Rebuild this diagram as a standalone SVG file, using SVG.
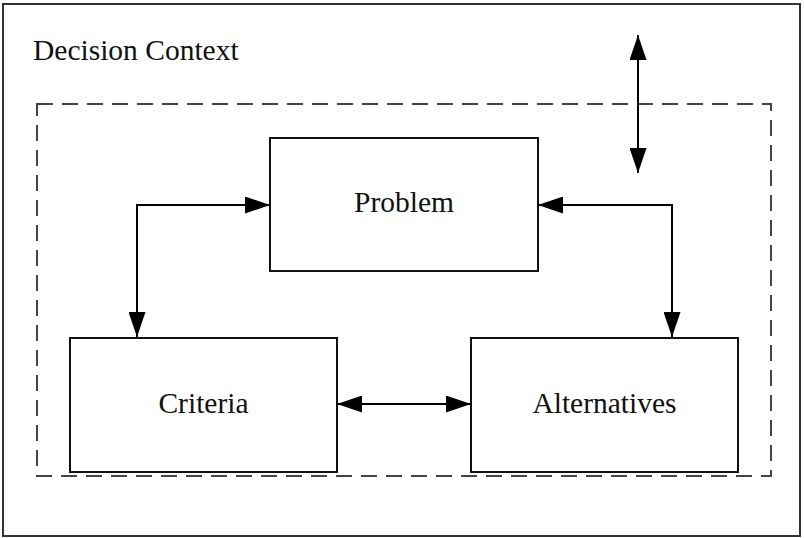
<svg xmlns="http://www.w3.org/2000/svg" width="804" height="538" viewBox="0 0 804 538">
  <defs>
    <marker id="arrow" viewBox="0 0 25 17" refX="25" refY="8.5" markerWidth="25" markerHeight="17" markerUnits="userSpaceOnUse" orient="auto-start-reverse">
      <path d="M0,0 L25,8.5 L0,17 Z" fill="#000"/>
    </marker>
  </defs>
  <style>
    .frame { fill: #fff; stroke: #333; stroke-width: 2; }
    .context { fill: none; stroke: #444; stroke-width: 2; stroke-dasharray: 16 9; }
    .box { fill: #fff; stroke: #111; stroke-width: 2; }
    .label { font-family: "Liberation Serif", "Times New Roman", serif; font-size: 29.5px; fill: #111; text-anchor: middle; }
    .title { font-family: "Liberation Serif", "Times New Roman", serif; font-size: 29.5px; fill: #111; }
    .conn { fill: none; stroke: #000; stroke-width: 2; marker-start: url(#arrow); marker-end: url(#arrow); }
  </style>

  <rect class="frame" x="3" y="4" width="797" height="532"/>
  <text class="title" x="33" y="60">Decision Context</text>
  <rect class="context" x="37" y="104" width="734" height="372"/>

  <g id="problem">
    <rect class="box" x="270" y="138" width="268" height="133"/>
    <text class="label" x="404" y="212">Problem</text>
  </g>
  <g id="criteria">
    <rect class="box" x="70" y="338" width="267" height="134"/>
    <text class="label" x="203.5" y="413">Criteria</text>
  </g>
  <g id="alternatives">
    <rect class="box" x="471" y="338" width="267" height="134"/>
    <text class="label" x="604.5" y="413">Alternatives</text>
  </g>

  <g id="connectors">
    <path class="conn" d="M137,337 L137,205 L270,205"/>
    <path class="conn" d="M538,205 L672,205 L672,337"/>
    <path class="conn" d="M337,404 L471,404"/>
    <path class="conn" d="M638,35 L638,173"/>
  </g>
</svg>
